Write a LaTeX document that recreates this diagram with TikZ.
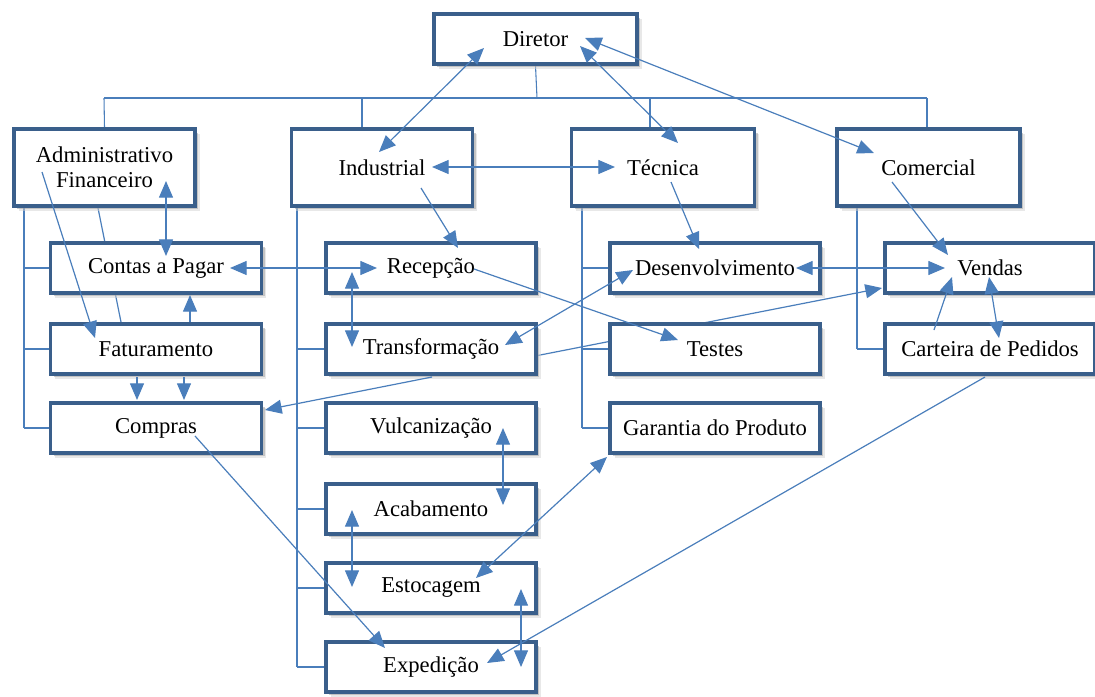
\documentclass[tikz,border=0pt]{standalone}
\usepackage{fontspec}
\setmainfont{Liberation Serif}
\usetikzlibrary{arrows.meta,shadows}
\definecolor{boxblue}{HTML}{3A5F8B}
\definecolor{lineblue}{HTML}{4A7EBB}
\pgfdeclarelayer{bg}
\pgfsetlayers{bg,main}
\tikzset{
  box/.style={draw=boxblue, line width=2.5pt, fill=white, inner sep=0pt,
    font=\fontsize{17}{19}\selectfont, align=center,
    drop shadow={shadow xshift=3.6pt,shadow yshift=-3.8pt,fill=black!18},
    drop shadow={shadow xshift=2.4pt,shadow yshift=-2.6pt,fill=black!38}},
  tree/.style={draw=lineblue, line width=0.8pt},
  conn/.style={draw=lineblue, line width=0.9pt,
    >={Triangle[length=12.5pt,width=10.5pt]}, arrows={-}},
}
\newcommand\orgbox[6]{\node[box,minimum width=#4*0.75pt-3.2pt,minimum height=#5*0.75pt-3.2pt] (#1) at (#2,#3) {#6};}
\begin{document}
\begin{tikzpicture}[x=0.75pt,y=-0.75pt]
\useasboundingbox (0,0) rectangle (1095,696);
% boxes
\orgbox{dir}{535.5}{39}{207}{54}{Diretor}
\orgbox{adm}{104.5}{167.5}{185}{81}{Administrativo\\Financeiro}
\orgbox{ind}{382}{167.5}{185}{81}{Industrial}
\orgbox{tec}{663}{167.5}{187}{81}{Técnica}
\orgbox{com}{928.5}{167.5}{187}{81}{Comercial}
\orgbox{con}{156}{268}{215}{54}{Contas a Pagar}
\orgbox{fat}{156}{349}{215}{54}{Faturamento}
\orgbox{cmp}{156}{428}{215}{54}{Compras}
\orgbox{rec}{431}{268}{214}{54}{Recepção}
\orgbox{trf}{431}{349}{214}{54}{Transformação}
\orgbox{vul}{431}{428}{214}{54}{Vulcanização}
\orgbox{aca}{431}{509}{214}{54}{Acabamento}
\orgbox{est}{431}{588}{214}{54}{Estocagem}
\orgbox{exp}{431}{667}{214}{54}{Expedição}
\orgbox{dev}{715}{268}{214}{54}{Desenvolvimento}
\orgbox{tst}{715}{349}{214}{54}{Testes}
\orgbox{gar}{715}{428}{214}{54}{Garantia do Produto}
\orgbox{ven}{990}{268}{214}{54}{Vendas}
\orgbox{car}{990}{349}{214}{54}{Carteira de Pedidos}
% coordinates
\coordinate (bus) at (537,98);
\coordinate (busA) at (104,98);
\coordinate (busI) at (362,98);
\coordinate (busT) at (650,98);
\coordinate (busC) at (927,98);
\coordinate (vA1) at (24,208);  \coordinate (vA2) at (24,428);
\coordinate (vI1) at (297,208); \coordinate (vI2) at (297,667);
\coordinate (vT1) at (582,208); \coordinate (vT2) at (582,428);
\coordinate (vC1) at (857,208); \coordinate (vC2) at (857,349);
\coordinate (admH1) at (98,208); \coordinate (fatH1) at (121,322);
\coordinate (dirA) at (484,48);  \coordinate (indA) at (379,152);
\coordinate (dirB) at (580,46);  \coordinate (tecA) at (678,143);
\coordinate (dirC) at (585,38);  \coordinate (comA) at (874,153);
\coordinate (indB) at (432,167); \coordinate (tecB) at (615,167);
\coordinate (indC) at (421,188); \coordinate (recA) at (458,248);
\coordinate (admA) at (166,181); \coordinate (conA) at (166,256);
\coordinate (admB) at (42,172);  \coordinate (fatA) at (95,338);
\coordinate (fatB) at (190,322); \coordinate (conB) at (190,295);
\coordinate (fatC) at (137,377); \coordinate (cmpA) at (137,400);
\coordinate (fatD) at (184,377); \coordinate (cmpB) at (184,400);
\coordinate (trfA) at (432,377); \coordinate (cmpC) at (265,410);
\coordinate (conC) at (230,268); \coordinate (recB) at (377,268);
\coordinate (recC) at (352,272); \coordinate (trfB) at (352,347);
\coordinate (recD) at (474,269); \coordinate (tstA) at (678,340);
\coordinate (devA) at (633,270); \coordinate (trfC) at (505,345);
\coordinate (tecC) at (671,182); \coordinate (devB) at (699,249);
\coordinate (devC) at (796,268); \coordinate (venA) at (945,268);
\coordinate (comB) at (892,182); \coordinate (venB) at (948,255);
\coordinate (trfD) at (530,357); \coordinate (venC) at (882,288);
\coordinate (carA) at (934,330); \coordinate (venD) at (952,277);
\coordinate (venE) at (989,277); \coordinate (carB) at (999,338);
\coordinate (carC) at (985,377); \coordinate (expA) at (487,663);
\coordinate (cmpD) at (195,436); \coordinate (expB) at (385,648);
\coordinate (vulA) at (503,428); \coordinate (acaA) at (503,505);
\coordinate (acaB) at (352,510); \coordinate (estA) at (352,587);
\coordinate (estB) at (521,589); \coordinate (expC) at (521,667);
\coordinate (estC) at (476,578); \coordinate (garA) at (607,457);
% background lines
\begin{pgfonlayer}{bg}
\draw[tree] (dir.south) -- (bus);
\draw[tree] (busA) -- (busC);
\draw[tree] (busA) -- (adm.north);
\draw[tree] (busI) -- (busI |- ind.north);
\draw[tree] (busT) -- (busT |- tec.north);
\draw[tree] (busC) -- (busC |- com.north);
\draw[tree] (vA1) -- (vA2);
\draw[tree] (vA1 |- con.west) -- (con.west);
\draw[tree] (vA1 |- fat.west) -- (fat.west);
\draw[tree] (vA1 |- cmp.west) -- (cmp.west);
\draw[tree] (vI1) -- (vI2);
\foreach \n in {rec,trf,vul,aca,est,exp} \draw[tree] (vI1 |- \n.west) -- (\n.west);
\draw[tree] (vT1) -- (vT2);
\foreach \n in {dev,tst,gar} \draw[tree] (vT1 |- \n.west) -- (\n.west);
\draw[tree] (vC1) -- (vC2);
\draw[tree] (vC1 |- car.west) -- (car.west);
\draw[conn] (admH1) -- (fatH1);
\draw[conn,->] (trfD) -- (venC);
\end{pgfonlayer}
% connectors on top
\draw[conn,<->] (dirA) -- (indA);
\draw[conn,<->] (dirB) -- (tecA);
\draw[conn,<->] (dirC) -- (comA);
\draw[conn,<->] (indB) -- (tecB);
\draw[conn,->] (indC) -- (recA);
\draw[conn,<->] (admA) -- (conA);
\draw[conn,->] (admB) -- (fatA);
\draw[conn,->] (fatB) -- (conB);
\draw[conn,->] (fatC) -- (cmpA);
\draw[conn,->] (fatD) -- (cmpB);
\draw[conn,->] (trfA) -- (cmpC);
\draw[conn,<->] (conC) -- (recB);
\draw[conn,<->] (recC) -- (trfB);
\draw[conn,->] (recD) -- (tstA);
\draw[conn,<->] (devA) -- (trfC);
\draw[conn,->] (tecC) -- (devB);
\draw[conn,<->] (devC) -- (venA);
\draw[conn,->] (comB) -- (venB);
\draw[conn,->] (carA) -- (venD);
\draw[conn,<->] (venE) -- (carB);
\draw[conn,->] (carC) -- (expA);
\draw[conn,->] (cmpD) -- (expB);
\draw[conn,<->] (vulA) -- (acaA);
\draw[conn,<->] (acaB) -- (estA);
\draw[conn,<->] (estB) -- (expC);
\draw[conn,<->] (estC) -- (garA);
\end{tikzpicture}
\end{document}
